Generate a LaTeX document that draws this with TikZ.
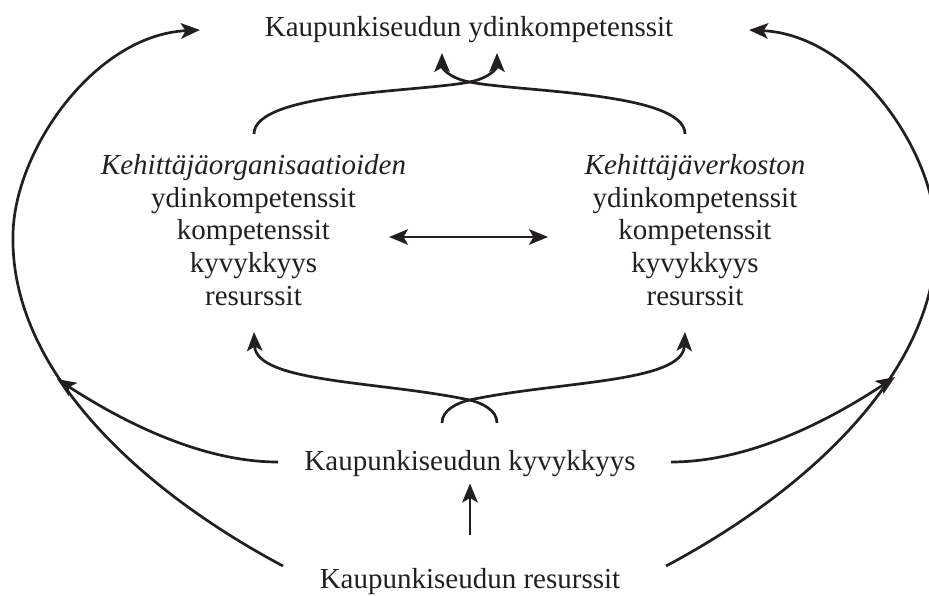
\documentclass[tikz,border=0pt]{standalone}
\usepackage{fontspec}
\setmainfont{Liberation Serif}
\usetikzlibrary{arrows.meta}
\definecolor{Ink}{HTML}{231F20}
\tikzset{
  lbl/.style={font=\fontsize{29}{32.7}\selectfont,inner sep=2pt,text=Ink},
  block/.style={lbl,align=center,inner sep=0pt},
  flow/.style={draw=Ink,line width=2.7pt,-{Stealth[length=19pt,width=15.5pt,inset=4.5pt]}},
  link/.style={draw=Ink,line width=2.7pt,{Stealth[length=19pt,width=15.5pt,inset=4.5pt]}-{Stealth[length=19pt,width=15.5pt,inset=4.5pt]}}
}

\begin{document}
\begin{tikzpicture}[x=1pt,y=-1pt]
  \useasboundingbox (0,0) rectangle (929,596);

  \node[lbl,anchor=base] (corecomp) at (469,37) {Kaupunkiseudun ydinkompetenssit};
  \node[block] (orgs) at (253.5,230) {\textit{Kehittäjäorganisaatioiden}\\ydinkompetenssit\\kompetenssit\\kyvykkyys\\resurssit};
  \node[block] (network) at (695,230) {\textit{Kehittäjäverkoston}\\ydinkompetenssit\\kompetenssit\\kyvykkyys\\resurssit};
  \node[lbl,anchor=base] (capab) at (470,470) {Kaupunkiseudun kyvykkyys};
  \node[lbl,anchor=base] (resources) at (470,588) {Kaupunkiseudun resurssit};

  % ends of the curved connectors
  \coordinate (orgsTop) at (254,134);
  \coordinate (netTop) at (685,134);
  \coordinate (coreL) at (442,53);
  \coordinate (coreR) at (497,53);
  \coordinate (orgsBot) at (254,332);
  \coordinate (netBot) at (685,332);
  \coordinate (capL) at (442,423);
  \coordinate (capR) at (497,423);
  \coordinate (capW) at (278,462);
  \coordinate (capE) at (671,462);
  \coordinate (wTip) at (57,379);
  \coordinate (eTip) at (895,377);
  \coordinate (resW) at (283,566);
  \coordinate (resE) at (666,566);
  \coordinate (coreW) at (200,30);
  \coordinate (coreE) at (749,30);
  \coordinate (linkL) at (389,237);
  \coordinate (linkR) at (548,237);

  % crossing arrows up to the core competences
  \draw[flow] (orgsTop) .. controls (254,92) and (420,92) .. (469.5,82) .. controls (490,78) and (497,68) .. (coreR);
  \draw[flow] (netTop) .. controls (685,92) and (519,92) .. (469.5,82) .. controls (449,78) and (442,68) .. (coreL);

  \draw[link] (linkL) -- (linkR);

  % crossing arrows from the capability
  \draw[flow] (capR) .. controls (497,410) and (482,403) .. (469.5,400) .. controls (380,381) and (256,383) .. (orgsBot);
  \draw[flow] (capL) .. controls (442,410) and (457,403) .. (469.5,400) .. controls (559,381) and (683,383) .. (netBot);

  \draw[flow] (capW) .. controls (200,462) and (120,420) .. (wTip);
  \draw[flow] (capE) .. controls (750,462) and (830,420) .. (eTip);

  % outer loops from the resources
  \draw[flow] (resW) .. controls (140,490) and (10,370) .. (13,235) .. controls (14,150) and (95,35) .. (coreW);
  \draw[flow] (resE) .. controls (809,490) and (939,370) .. (936,235) .. controls (935,150) and (854,35) .. (coreE);

  \draw[flow,shorten <=30.5pt,shorten >=5pt] (resources.north) -- (capab.south);
\end{tikzpicture}
\end{document}
